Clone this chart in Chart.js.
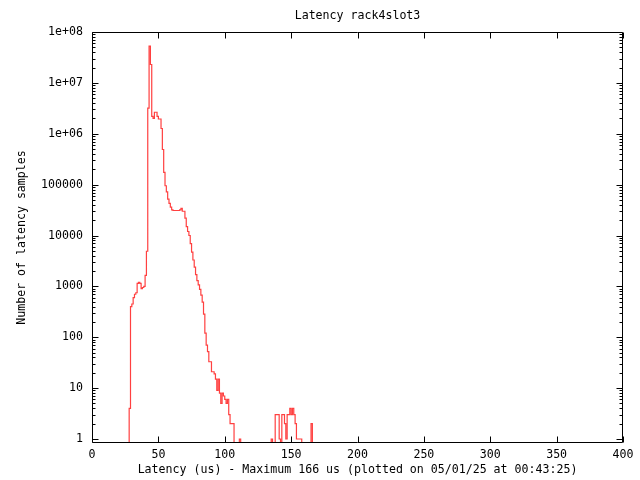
<!DOCTYPE html>
<html>
<head>
<meta charset="utf-8">
<title>Latency rack4slot3</title>
<script src="https://cdn.jsdelivr.net/npm/chart.js@4.4.1/dist/chart.umd.min.js"></script>
<style>
  html, body { margin: 0; padding: 0; background: #fff; }
</style>
</head>
<body>
<canvas id="latencyChart" width="640" height="480"></canvas>
<script>
// histogram bins (1 us wide), counts
const latencyUs = [
  27, 28, 29, 30, 31, 32, 33, 34, 35, 36, 37, 38, 39, 40, 41, 42, 43, 44, 45, 46,
  47, 48, 49, 50, 51, 52, 53, 54, 55, 56, 57, 58, 59, 60, 61, 62, 63, 64, 65, 66,
  67, 68, 69, 70, 71, 72, 73, 74, 75, 76, 77, 78, 79, 80, 81, 82, 83, 84, 85, 86,
  87, 88, 89, 90, 91, 92, 93, 94, 95, 96, 97, 98, 99, 100, 101, 102, 103, 104, 105, 106,
  107, 108, 109, 110, 111, 112, 113, 114, 115, 116, 117, 118, 119, 120, 121, 122, 123, 124, 125, 126,
  127, 128, 129, 130, 131, 132, 133, 134, 135, 136, 137, 138, 139, 140, 141, 142, 143, 144, 145, 146,
  147, 148, 149, 150, 151, 152, 153, 154, 155, 156, 157, 158, 159, 160, 161, 162, 163, 164, 165, 166,
  167
];
const sampleCounts = [
  0, 4, 400, 450, 600, 700, 750, 1150, 1200, 1150, 900, 950, 1000, 1650, 4900, 3200000, 53000000, 23000000, 2200000, 2000000,
  2650000, 2650000, 2200000, 1950000, 1950000, 1270000, 490000, 174000, 95000, 72000, 52000, 43000, 36000, 32000, 31000, 31000, 31000, 31000, 31000, 32000,
  34000, 30000, 30000, 22000, 15000, 12000, 10000, 6900, 4700, 3300, 2400, 1700, 1300, 1070, 870, 675, 490, 285, 120, 70,
  52, 33, 33, 21, 21, 19, 15, 9, 15, 8, 5, 8, 7, 6, 5, 6, 3, 2, 2, 2,
  0, 0, 0, 0, 1, 0, 0, 0, 0, 0, 0, 0, 0, 0, 0, 0, 0, 0, 0, 0,
  0, 0, 0, 0, 0, 0, 0, 0, 1, 0, 0, 3, 3, 3, 1, 0, 3, 3, 2, 1,
  3, 3, 4, 3, 4, 3, 2, 1, 1, 1, 1, 0, 0, 0, 0, 0, 0, 0, 2, 0,
  0
];

const xTickValues = [0, 50, 100, 150, 200, 250, 300, 350, 400];
const yTickValues = [1, 10, 100, 1000, 10000, 100000, 1000000, 10000000, 100000000];
const yTickLabels = ['1', '10', '100', '1000', '10000', '100000', '1e+06', '1e+07', '1e+08'];

const chartTitle = 'Latency rack4slot3';
const xAxisTitle = 'Latency (us) - Maximum 166 us (plotted on 05/01/25 at 00:43:25)';
const yAxisTitle = 'Number of latency samples';

const lineColor = '#ff4040';
const monoFont = { family: "'DejaVu Sans Mono', monospace", size: 11.6, lineHeight: 1.2, weight: 'normal' };
const yMin = 0.834;
const belowAxis = 0.5; // empty bins drop under the x axis (log scale)

// gnuplot style frame with inward ticks on all four sides
const frameTicks = {
  id: 'frameTicks',
  afterDraw(chart) {
    const { ctx, chartArea: a, scales: { x, y } } = chart;
    const L = Math.round(a.left) + 0.5, R = Math.round(a.right) - 0.5;
    const T = Math.round(a.top) + 0.5, B = Math.round(a.bottom) - 0.5;
    ctx.save();
    ctx.strokeStyle = '#000';
    ctx.lineWidth = 1;
    ctx.beginPath();
    ctx.rect(L, T, R - L, B - T);
    xTickValues.forEach(v => {
      const px = Math.round(x.getPixelForValue(v)) + 0.5;
      ctx.moveTo(px, B); ctx.lineTo(px, B - 6);
      ctx.moveTo(px, T); ctx.lineTo(px, T + 6);
    });
    yTickValues.forEach(v => {
      const py = Math.round(y.getPixelForValue(v)) + 0.5;
      ctx.moveTo(L, py); ctx.lineTo(L + 6, py);
      ctx.moveTo(R, py); ctx.lineTo(R - 6, py);
      if (v < 100000000) {
        for (let m = 2; m <= 9; m++) {
          const pm = Math.round(y.getPixelForValue(v * m)) + 0.5;
          ctx.moveTo(L, pm); ctx.lineTo(L + 3, pm);
          ctx.moveTo(R, pm); ctx.lineTo(R - 3, pm);
        }
      }
    });
    ctx.stroke();
    ctx.restore();
  }
};

const ctx = document.getElementById('latencyChart').getContext('2d');
new Chart(ctx, {
  type: 'line',
  data: {
    datasets: [{
      label: 'rack4slot3',
      data: latencyUs.map((us, i) => ({ x: us, y: sampleCounts[i] > 0 ? sampleCounts[i] : belowAxis })),
      borderColor: lineColor,
      borderWidth: 1.2,
      pointRadius: 0,
      fill: false,
      stepped: 'before'
    }]
  },
  options: {
    responsive: false,
    animation: false,
    layout: { padding: { left: 0, top: 0, right: 17, bottom: 0 } },
    plugins: {
      legend: { display: false },
      tooltip: { enabled: false },
      title: {
        display: true,
        text: chartTitle,
        fullSize: false,
        color: '#000',
        font: monoFont,
        padding: { top: 9, bottom: 9.1 }
      }
    },
    scales: {
      x: {
        type: 'linear',
        min: 0,
        max: 400,
        afterBuildTicks: s => { s.ticks = xTickValues.map(v => ({ value: v })); },
        afterFit: s => { s.height = 37; },
        grid: { display: false, drawTicks: false },
        border: { display: false },
        ticks: { color: '#000', font: monoFont, padding: 5, maxRotation: 0, autoSkip: false },
        title: { display: true, text: xAxisTitle, color: '#000', font: monoFont, padding: { top: 0, bottom: 3 } }
      },
      y: {
        type: 'logarithmic',
        min: yMin,
        max: 100000000,
        afterBuildTicks: s => { s.ticks = yTickValues.map(v => ({ value: v })); },
        afterFit: s => { s.width = 92; },
        grid: { display: false, drawTicks: false },
        border: { display: false },
        ticks: {
          color: '#000',
          font: monoFont,
          padding: 9,
          autoSkip: false,
          callback: v => yTickLabels[yTickValues.indexOf(v)]
        },
        title: { display: true, text: yAxisTitle, color: '#000', font: monoFont, padding: { top: 15 } }
      }
    }
  },
  plugins: [frameTicks]
});
</script>
</body>
</html>
